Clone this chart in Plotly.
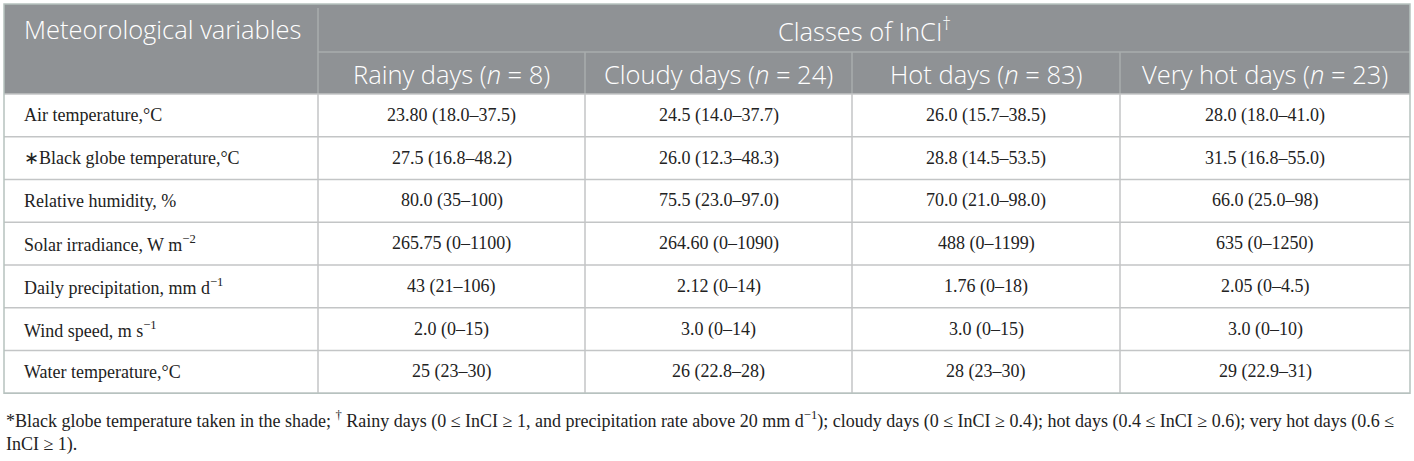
import plotly.graph_objects as go

# table content
row_labels = [
    "Air temperature,°C",
    "∗Black globe temperature,°C",
    "Relative humidity, %",
    "Solar irradiance, W m<sup>−2</sup>",
    "Daily precipitation, mm d<sup>−1</sup>",
    "Wind speed, m s<sup>−1</sup>",
    "Water temperature,°C",
]
class_labels = ["Rainy days", "Cloudy days", "Hot days", "Very hot days"]
class_n = [8, 24, 83, 23]

rainy = ["23.80 (18.0–37.5)", "27.5 (16.8–48.2)", "80.0 (35–100)", "265.75 (0–1100)",
         "43 (21–106)", "2.0 (0–15)", "25 (23–30)"]
cloudy = ["24.5 (14.0–37.7)", "26.0 (12.3–48.3)", "75.5 (23.0–97.0)", "264.60 (0–1090)",
          "2.12 (0–14)", "3.0 (0–14)", "26 (22.8–28)"]
hot = ["26.0 (15.7–38.5)", "28.8 (14.5–53.5)", "70.0 (21.0–98.0)", "488 (0–1199)",
       "1.76 (0–18)", "3.0 (0–15)", "28 (23–30)"]
very_hot = ["28.0 (18.0–41.0)", "31.5 (16.8–55.0)", "66.0 (25.0–98)", "635 (0–1250)",
            "2.05 (0–4.5)", "3.0 (0–10)", "29 (22.9–31)"]
columns = [rainy, cloudy, hot, very_hot]

first_header = "Meteorological variables"
group_header = "Classes of InCI<sup>†</sup>"
footnote = ("*Black globe temperature taken in the shade; <sup>†</sup> Rainy days (0 ≤ InCI ≥ 1, "
            "and precipitation rate above 20 mm d<sup>−1</sup>); cloudy days (0 ≤ InCI ≥ 0.4); "
            "hot days (0.4 ≤ InCI ≥ 0.6); very hot days (0.6 ≤<br>InCI ≥ 1).")

# layout geometry (pixels)
W, H = 1414, 461
col_edges = [4, 318, 585, 852, 1120, 1410]
top, mid, head_bottom = 4, 52, 94
row_h = 42.75
row_edges = [head_bottom + i * row_h for i in range(len(row_labels) + 1)]

header_bg = "#8f9295"
header_line = "#a9acae"
body_line = "#c3c5c6"
sans = "Open Sans"
serif = "Liberation Serif"
head_font = dict(family=sans, size=25.5, color="white", weight=300)
body_font = dict(family=serif, size=18, color="#222222")

fig = go.Figure()
shapes = []
ann = []

# header background
shapes.append(dict(type="rect", x0=col_edges[0], x1=col_edges[-1], y0=top, y1=head_bottom,
                   fillcolor=header_bg, line=dict(width=0), layer="below"))
# header inner lines
shapes.append(dict(type="line", x0=col_edges[1], x1=col_edges[-1], y0=mid, y1=mid,
                   line=dict(color=header_line, width=1.5)))
for x in col_edges[2:-1]:
    shapes.append(dict(type="line", x0=x, x1=x, y0=mid, y1=head_bottom,
                       line=dict(color=header_line, width=1.5)))
shapes.append(dict(type="line", x0=col_edges[1], x1=col_edges[1], y0=top + 4, y1=head_bottom,
                   line=dict(color=header_line, width=1.5)))

# body grid
for y in row_edges:
    shapes.append(dict(type="line", x0=col_edges[0], x1=col_edges[-1], y0=y, y1=y,
                       line=dict(color=body_line, width=1.5)))
for x in col_edges[1:-1]:
    shapes.append(dict(type="line", x0=x, x1=x, y0=head_bottom, y1=row_edges[-1],
                       line=dict(color=body_line, width=1.5)))
# outer border
shapes.append(dict(type="rect", x0=col_edges[0], x1=col_edges[-1], y0=top, y1=row_edges[-1],
                   line=dict(color="#b7c2bf", width=1.5)))

# header text
ann.append(dict(x=col_edges[0] + 18, y=(top + mid) / 2 + 1, text=first_header, xanchor="left",
                yanchor="middle", showarrow=False, font=head_font))
ann.append(dict(x=(col_edges[1] + col_edges[-1]) / 2, y=(top + mid) / 2 + 1, text=group_header,
                xanchor="center", yanchor="middle", showarrow=False, font=head_font))
for j, (lab, n) in enumerate(zip(class_labels, class_n)):
    ann.append(dict(x=(col_edges[j + 1] + col_edges[j + 2]) / 2, y=(mid + head_bottom) / 2 + 1,
                    text=f"{lab} (<i>n</i> = {n})", xanchor="center", yanchor="middle",
                    showarrow=False, font=head_font))

# body text
for i, lab in enumerate(row_labels):
    yc = (row_edges[i] + row_edges[i + 1]) / 2
    ann.append(dict(x=col_edges[0] + 18, y=yc, text=lab, xanchor="left", yanchor="middle",
                    showarrow=False, font=body_font))
    for j, col in enumerate(columns):
        ann.append(dict(x=(col_edges[j + 1] + col_edges[j + 2]) / 2, y=yc, text=col[i],
                        xanchor="center", yanchor="middle", showarrow=False, font=body_font))

# footnote
ann.append(dict(x=col_edges[0], y=row_edges[-1] + 13, text=footnote, xanchor="left", yanchor="top",
                align="left", showarrow=False,
                font=dict(family=serif, size=18, color="#222222")))

fig.update_layout(
    width=W, height=H,
    margin=dict(l=0, r=0, t=0, b=0),
    paper_bgcolor="white", plot_bgcolor="white",
    xaxis=dict(range=[0, W], visible=False, fixedrange=True),
    yaxis=dict(range=[H, 0], visible=False, fixedrange=True),
    shapes=shapes, annotations=ann, showlegend=False,
)

# drop the default page margin so the figure sits at the window's corner
fig.write_html("out.html", config={"displayModeBar": False},
               post_script="document.body.style.margin='0';")
